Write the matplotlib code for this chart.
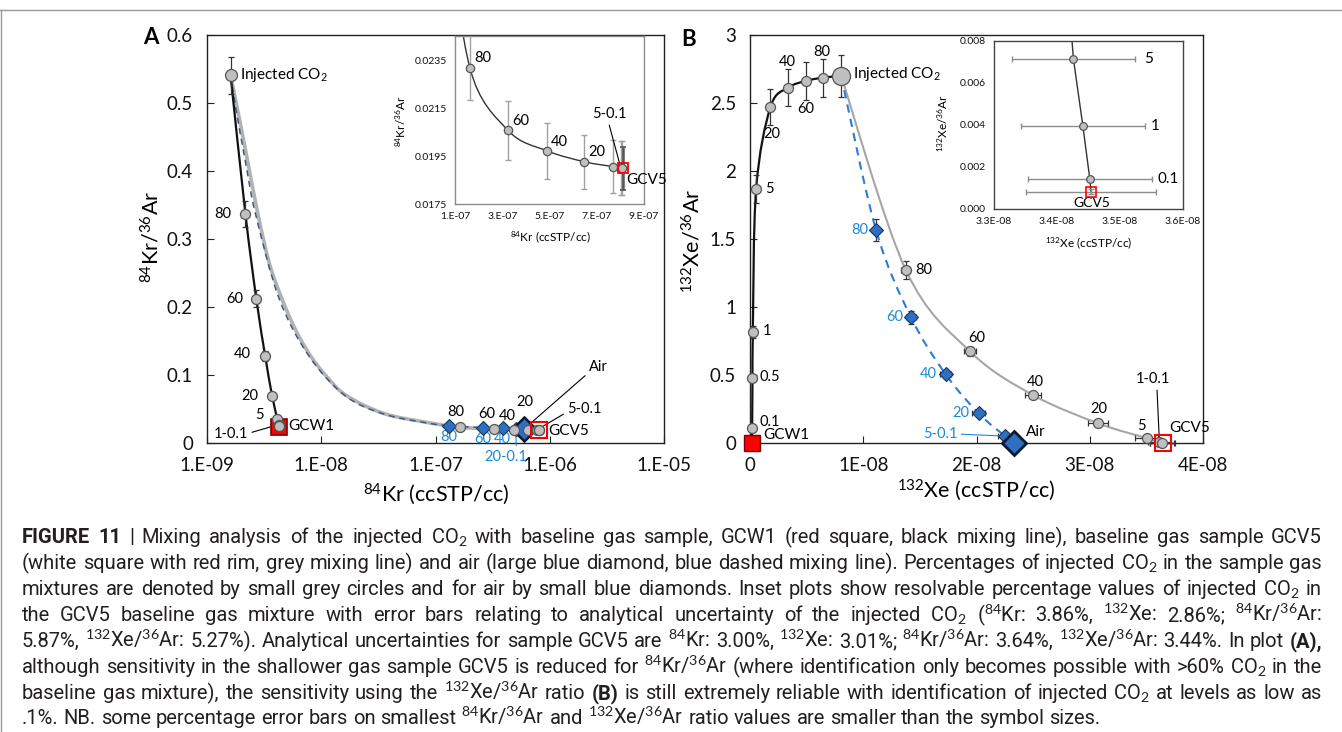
import numpy as np
import matplotlib
matplotlib.use('Agg')
import matplotlib.pyplot as plt
from matplotlib.path import Path
from matplotlib.patches import PathPatch
from matplotlib.transforms import IdentityTransform
from matplotlib.lines import Line2D
from matplotlib.ticker import NullLocator

# ======================= DATA =======================
# ---- Panel A : 84Kr (ccSTP/cc) vs 84Kr/36Ar ----
inj_kr, inj_krar, inj_krar_err = 1.61e-9, 0.5405, 0.027
gcw1_kr, gcw1_krar = 4.29e-9, 0.0236

a_gcw1_labels = ['80', '60', '40', '20', '5', '1', '0.1']
a_gcw1_kr = [2.17e-9, 2.70e-9, 3.23e-9, 3.71e-9, 4.12e-9, 4.24e-9, 4.28e-9]
a_gcw1_krar = [0.3366, 0.2123, 0.1280, 0.0698, 0.0359, 0.0272, 0.0250]
a_gcw1_err = [0.0195, 0.0125, 0.0075, 0.0041, 0.0021, 0.0016, 0.0015]

a_gcv5_labels = ['80', '60', '40', '20', '5', '1', '0.1']
a_gcv5_kr = [1.63e-7, 3.24e-7, 4.88e-7, 6.48e-7, 7.68e-7, 8.02e-7, 8.07e-7]
a_gcv5_krar = [0.02318, 0.02057, 0.01972, 0.01926, 0.01906, 0.01900, 0.01899]
a_gcv5_err = [0.00135, 0.00122, 0.00117, 0.00113, 0.00112, 0.00112, 0.00112]
gcv5_kr, gcv5_krar, gcv5_krar_err = 8.10e-7, 0.01898, 0.00088

# course of the smoothed grey mixing line between injected CO2 and 80 %
a_gcv5_trace_kr = [1.875e-9, 2.286e-9, 2.79e-9, 3.51e-9, 4.52e-9, 5.97e-9,
                   8.04e-9, 1.12e-8, 1.66e-8, 3.56e-8, 9.0e-8]
a_gcv5_trace_krar = [0.4855, 0.4118, 0.3366, 0.2644, 0.2123, 0.1661,
                     0.1283, 0.0973, 0.0698, 0.0432, 0.0295]

a_air_labels = ['80', '60', '40', '20', '5', '1', '0.1']
a_air_kr = [1.30e-7, 2.58e-7, 3.87e-7, 5.03e-7, 5.75e-7, 5.95e-7, 5.99e-7]
a_air_krar = [0.0255, 0.0227, 0.0216, 0.0211, 0.0208, 0.0207, 0.0207]
air_kr, air_krar = 6.0e-7, 0.0210
a_air_trace_kr = [1.815e-9, 2.18e-9, 2.66e-9, 4.28e-9, 7.78e-9, 1.61e-8, 3.44e-8, 8.4e-8]
a_air_trace_krar = [0.4855, 0.4118, 0.3366, 0.2123, 0.1283, 0.0698, 0.0432, 0.0295]

a_xticks = [1e-9, 1e-8, 1e-7, 1e-6, 1e-5]
a_xticklabels = ['1.E-09', '1.E-08', '1.E-07', '1.E-06', '1.E-05']
a_yticks = [0, 0.1, 0.2, 0.3, 0.4, 0.5, 0.6]
a_yticklabels = ['0', '0.1', '0.2', '0.3', '0.4', '0.5', '0.6']

ia_xticks = [1e-7, 3e-7, 5e-7, 7e-7, 9e-7]
ia_xticklabels = ['1.E-07', '3.E-07', '5.E-07', '7.E-07', '9.E-07']
ia_yticks = [0.0175, 0.0195, 0.0215, 0.0235]
ia_yticklabels = ['0.0175', '0.0195', '0.0215', '0.0235']

# ---- Panel B : 132Xe (ccSTP/cc) vs 132Xe/36Ar ----
inj_xe, inj_xear, inj_xear_err = 8.05e-9, 2.699, 0.155
gcw1_xe, gcw1_xear = 1.8e-10, 0.0

b_gcw1_labels = ['80', '60', '40', '20', '5', '1', '0.5', '0.1']
b_gcw1_xe = [6.46e-9, 4.92e-9, 3.38e-9, 1.81e-9, 5.4e-10, 2.5e-10, 2.2e-10, 1.9e-10]
b_gcw1_xear = [2.687, 2.662, 2.613, 2.471, 1.867, 0.815, 0.477, 0.113]
b_gcw1_err = [0.14, 0.14, 0.138, 0.13, 0.10, 0.043, 0.025, 0.006]

b_gcv5_labels = ['80', '60', '40', '20', '5', '1', '0.1']
b_gcv5_xe = [1.376e-8, 1.943e-8, 2.50e-8, 3.076e-8, 3.503e-8, 3.615e-8, 3.638e-8]
b_gcv5_xear = [1.272, 0.673, 0.352, 0.144, 0.036, 0.008, 0.0016]
b_gcv5_xe_err = [3.9e-10, 5.6e-10, 7.2e-10, 8.8e-10, 1.0e-9, 1.04e-9, 1.04e-9]
b_gcv5_xear_err = [0.067, 0.035, 0.018, 0.0076, 0.002, 0.0004, 0.0001]
gcv5_xe, gcv5_xear, gcv5_xe_err = 3.645e-8, 0.0009, 1.1e-9

b_air_labels = ['80', '60', '40', '20', '5', '1', '0.1']
b_air_xe = [1.113e-8, 1.421e-8, 1.729e-8, 2.02e-8, 2.252e-8, 2.314e-8, 2.325e-8]
b_air_xear = [1.566, 0.925, 0.504, 0.217, 0.051, 0.011, 0.002]
b_air_xe_err = [3.2e-10, 4.1e-10, 4.9e-10, 5.8e-10, 6.4e-10, 6.6e-10, 6.6e-10]
b_air_xear_err = [0.083, 0.049, 0.027, 0.011, 0.003, 0.001, 0.0001]
air_xe, air_xear = 2.33e-8, 0.001

b_xticks = [0, 1e-8, 2e-8, 3e-8, 4e-8]
b_xticklabels = ['0', '1E-08', '2E-08', '3E-08', '4E-08']
b_yticks = [0, 0.5, 1, 1.5, 2, 2.5, 3]
b_yticklabels = ['0', '0.5', '1', '1.5', '2', '2.5', '3']

ib_labels = ['5', '1', '0.1']
ib_xe = [3.426e-8, 3.441e-8, 3.452e-8]
ib_xear = [0.00716, 0.00397, 0.00145]
ib_xe_err = [9.8e-10, 9.8e-10, 9.8e-10]
ib_gcv5_xe, ib_gcv5_xear, ib_gcv5_xe_err = 3.454e-8, 0.00082, 1.03e-9
ib_xticks = [3.3e-8, 3.4e-8, 3.5e-8, 3.6e-8]
ib_xticklabels = ['3.3E-08', '3.4E-08', '3.5E-08', '3.6E-08']
ib_yticks = [0, 0.002, 0.004, 0.006, 0.008]
ib_yticklabels = ['0.000', '0.002', '0.004', '0.006', '0.008']

caption_lines = [
    "**FIGURE **11 | Mixing analysis of the injected CO$_2$ with baseline gas sample, GCW1 (red square, black mixing line), baseline gas sample GCV5",
    "(white square with red rim, grey mixing line) and air (large blue diamond, blue dashed mixing line). Percentages of injected CO$_2$ in the sample gas",
    "mixtures are denoted by small grey circles and for air by small blue diamonds. Inset plots show resolvable percentage values of injected CO$_2$ in",
    "the GCV5 baseline gas mixture with error bars relating to analytical uncertainty of the injected CO$_2$ ($^{84}$Kr: 3.86%, $^{132}$Xe: 2.86%; $^{84}$Kr/$^{36}$Ar:",
    "5.87%, $^{132}$Xe/$^{36}$Ar: 5.27%). Analytical uncertainties for sample GCV5 are $^{84}$Kr: 3.00%, $^{132}$Xe: 3.01%; $^{84}$Kr/$^{36}$Ar: 3.64%, $^{132}$Xe/$^{36}$Ar: 3.44%. In plot **(A),",
    "although sensitivity in the shallower gas sample GCV5 is reduced for $^{84}$Kr/$^{36}$Ar (where identification only becomes possible with >60% CO$_2$ in the",
    "baseline gas mixture), the sensitivity using the $^{132}$Xe/$^{36}$Ar ratio **(B) is still extremely reliable with identification of injected CO$_2$ at levels as low as",
    ".1%. NB. some percentage error bars on smallest $^{84}$Kr/$^{36}$Ar and $^{132}$Xe/$^{36}$Ar ratio values are smaller than the symbol sizes.",
]

# ======================= STYLE =======================
plt.rcParams['font.family'] = ['Lato', 'DejaVu Sans']
plt.rcParams['mathtext.fontset'] = 'custom'
plt.rcParams['mathtext.rm'] = 'Lato'
plt.rcParams['mathtext.it'] = 'Lato:italic'
plt.rcParams['mathtext.bf'] = 'Lato:bold'

W, H = 1342, 732
fig = plt.figure(figsize=(W / 100, H / 100), dpi=100)


def box(l, t, r, b):
    return [l / W, 1 - b / H, (r - l) / W, (b - t) / H]


GREY_F, GREY_E = '#BFBFBF', '#555555'
BLUE_F, BLUE_E = '#2E6FC2', '#17375E'
BLUE_T = '#1C8AD8'
RED = '#FF0000'
PT_FS = 10.5


def smooth(ax, x, y, logx=False, **kw):
    x = np.asarray(x, float)
    y = np.asarray(y, float)
    u = np.log10(x) if logx else x
    P = np.column_stack([u, y])
    n = len(P)
    verts, codes = [P[0]], [Path.MOVETO]
    for i in range(n - 1):
        p0 = P[i - 1] if i > 0 else P[i]
        p1, p2 = P[i], P[i + 1]
        p3 = P[i + 2] if i + 2 < n else P[i + 1]
        verts += [p1 + (p2 - p0) / 6, p2 - (p3 - p1) / 6, p2]
        codes += [Path.CURVE4] * 3
    V = np.array(verts)
    if logx:
        V[:, 0] = 10 ** V[:, 0]
    ax.add_patch(PathPatch(Path(V, codes), fill=False, **kw))


def circles(ax, x, y, ms=7.2, z=5, clip=False):
    ax.plot(x, y, 'o', ms=ms, mfc=GREY_F, mec=GREY_E, mew=0.9, zorder=z, clip_on=clip)


def diamonds(ax, x, y, ms=7, z=4, clip=False):
    ax.plot(x, y, 'D', ms=ms, mfc=BLUE_F, mec=BLUE_E, mew=0.8, zorder=z, clip_on=clip)


def lab(ax, text, xy, dx, dy, ha='center', va='center', color='black', fs=PT_FS, **kw):
    ax.annotate(text, xy=xy, xytext=(dx, dy), textcoords='offset pixels',
                ha=ha, va=va, color=color, fontsize=fs, **kw)


def leader(ax, text, xy, dx, dy, relpos, color='black', fs=PT_FS, shrink=4):
    ax.annotate(text, xy=xy, xytext=(dx, dy), textcoords='offset pixels',
                ha='center', va='center', color=color, fontsize=fs,
                arrowprops=dict(arrowstyle='-', color=color, lw=0.8, relpos=relpos,
                                shrinkA=1, shrinkB=shrink))


def style_main(ax):
    for s in ax.spines.values():
        s.set_color('#222222')
        s.set_linewidth(1.0)
    ax.tick_params(direction='in', length=5, width=0.8, labelsize=13.5, pad=10,
                   color='#222222', labelcolor='#111111')
    ax.xaxis.set_minor_locator(NullLocator())
    ax.yaxis.set_minor_locator(NullLocator())


def style_inset(ax, col):
    for s in ax.spines.values():
        s.set_color(col)
        s.set_linewidth(1.0)
    ax.tick_params(length=0, labelsize=7.5, pad=6, labelcolor='#111111')
    ax.set_facecolor('white')


ERR = dict(fmt='none', ecolor='#333333', elinewidth=0.9, capsize=2.5, capthick=0.9)

# ======================= PANEL A =======================
axA = fig.add_axes(box(207, 35, 664, 443))
axA.set_xscale('log')
axA.set_xlim(1e-9, 1e-5)
axA.set_ylim(0, 0.6)
axA.set_xticks(a_xticks)
axA.set_xticklabels(a_xticklabels)
axA.set_yticks(a_yticks)
axA.set_yticklabels(a_yticklabels)
style_main(axA)

smooth(axA, [inj_kr] + a_gcv5_trace_kr + a_gcv5_kr + [gcv5_kr],
       [inj_krar] + a_gcv5_trace_krar + a_gcv5_krar + [gcv5_krar], logx=True,
       ec='#B2B2B2', lw=2.6, zorder=2)
smooth(axA, [inj_kr] + a_air_trace_kr + a_air_kr + [air_kr],
       [inj_krar] + a_air_trace_krar + a_air_krar + [air_krar], logx=True,
       ec='#3A5A8C', lw=1.1, linestyle=(0, (4, 3)), zorder=2.2)
smooth(axA, [inj_kr] + a_gcw1_kr + [gcw1_kr], [inj_krar] + a_gcw1_krar + [gcw1_krar],
       logx=True, ec='#111111', lw=1.6, zorder=2.5)

axA.errorbar([inj_kr] + a_gcw1_kr, [inj_krar] + a_gcw1_krar,
             yerr=[inj_krar_err] + a_gcw1_err, zorder=3, **ERR)
axA.plot([gcw1_kr], [gcw1_krar], 's', ms=11, mfc=RED, mec='#7A0000', mew=1.2, zorder=4)
diamonds(axA, a_air_kr, a_air_krar, ms=7)
axA.plot([air_kr], [air_krar], 'D', ms=12, mfc=BLUE_F, mec='#0A1A30', mew=1.8, zorder=4.5)
circles(axA, a_gcw1_kr, a_gcw1_krar)
circles(axA, a_gcv5_kr, a_gcv5_krar)
circles(axA, [inj_kr], [inj_krar], ms=8.6)
axA.plot([gcv5_kr], [gcv5_krar], 's', ms=11, mfc='none', mec=RED, mew=1.5, zorder=6)

lab(axA, 'Injected CO$_2$', (inj_kr, inj_krar), 9, 0, ha='left', fs=11)
a_gcw1_off = [(-14, 0), (-13, 0), (-14, 2), (-14, 0), (-14, 4)]
for t, x, y, (dx, dy) in zip(a_gcw1_labels[:5], a_gcw1_kr, a_gcw1_krar, a_gcw1_off):
    lab(axA, t, (x, y), dx, dy, ha='right')
leader(axA, '1-0.1', (a_gcw1_kr[5], a_gcw1_krar[5]), -48, -9, (1, 0.5))
lab(axA, 'GCW1', (gcw1_kr, gcw1_krar), 9, 1, ha='left', fs=11)
a_gcv5_off = [(-4, 15), (-7, 15), (-7, 14), (-3, 28)]
for t, x, y, (dx, dy) in zip(a_gcv5_labels[:4], a_gcv5_kr, a_gcv5_krar, a_gcv5_off):
    lab(axA, t, (x, y), dx, dy)
a_air_off = [(0, -11), (0, -11), (0, -11)]
for t, x, y, (dx, dy) in zip(a_air_labels[:3], a_air_kr, a_air_krar, a_air_off):
    lab(axA, t, (x, y), dx, dy, color=BLUE_T)
leader(axA, '20-0.1', (a_air_kr[3], a_air_krar[3]), -10, -28, (0.75, 1), color=BLUE_T)
leader(axA, '5-0.1', (a_gcv5_kr[4], a_gcv5_krar[4]), 48, 21, (0, 0.3))
leader(axA, 'Air', (air_kr, air_krar), 74, 62, (0, 0.1))
lab(axA, 'GCV5', (gcv5_kr, gcv5_krar), 9, -1, ha='left', fs=11)

# inset A
insA = fig.add_axes(box(455, 36, 644, 204))
insA.set_zorder(10)
insA.set_xlim(1e-7, 9e-7)
insA.set_ylim(0.0175, 0.0245)
insA.set_xticks(ia_xticks)
insA.set_xticklabels(ia_xticklabels)
insA.set_yticks(ia_yticks)
insA.set_yticklabels(ia_yticklabels)
style_inset(insA, '#8A8A8A')
smooth(insA, [inj_kr] + a_gcv5_trace_kr + a_gcv5_kr + [gcv5_kr],
       [inj_krar] + a_gcv5_trace_krar + a_gcv5_krar + [gcv5_krar],
       ec='#333333', lw=1.0, zorder=2)
insA.errorbar(a_gcv5_kr, a_gcv5_krar, yerr=a_gcv5_err, fmt='none', ecolor='#A0A0A0',
              elinewidth=1.0, capsize=2, capthick=1.0, zorder=3)
insA.errorbar([gcv5_kr], [gcv5_krar], yerr=[gcv5_krar_err], fmt='none', ecolor='#555555',
              elinewidth=1.8, capsize=2, capthick=1.2, zorder=3)
circles(insA, a_gcv5_kr, a_gcv5_krar, ms=6, clip=True)
insA.plot([gcv5_kr], [gcv5_krar], 's', ms=7, mfc='none', mec=RED, mew=1.3, zorder=6)
ia_off = [(4, 10), (4, 9), (4, 9), (4, 10)]
for t, x, y, (dx, dy) in zip(a_gcv5_labels[:4], a_gcv5_kr, a_gcv5_krar, ia_off):
    lab(insA, t, (x, y), dx, dy, ha='left')
leader(insA, '5-0.1', (a_gcv5_kr[5], a_gcv5_krar[5]), -11, 54, (0.45, 0), shrink=2)
lab(insA, 'GCV5', (gcv5_kr, gcv5_krar), 4, -12, ha='left', fs=11)

fig.text(401 / W, 1 - 121 / H, '$^{84}$Kr/$^{36}$Ar', rotation=90, ha='center', va='center', fontsize=8.5)
fig.text(550 / W, 1 - 237 / H, '$^{84}$Kr (ccSTP/cc)', ha='center', va='center', fontsize=8.5)

fig.text(151 / W, 1 - 237 / H, '$^{84}$Kr/$^{36}$Ar', rotation=90, ha='center', va='center', fontsize=15.5)
fig.text(436 / W, 1 - 494 / H, '$^{84}$Kr (ccSTP/cc)', ha='center', va='center', fontsize=15.5)
fig.text(151 / W, 1 - 38 / H, 'A', ha='center', va='center', fontsize=16, fontweight='bold')

# ======================= PANEL B =======================
axB = fig.add_axes(box(750, 35, 1203, 443))
axB.set_xlim(0, 4e-8)
axB.set_ylim(0, 3)
axB.set_xticks(b_xticks)
axB.set_xticklabels(b_xticklabels)
axB.set_yticks(b_yticks)
axB.set_yticklabels(b_yticklabels)
style_main(axB)

smooth(axB, [inj_xe] + b_gcv5_xe + [gcv5_xe], [inj_xear] + b_gcv5_xear + [gcv5_xear],
       ec='#A6A6A6', lw=1.5, zorder=2)
smooth(axB, [inj_xe] + b_air_xe + [air_xe], [inj_xear] + b_air_xear + [air_xear],
       ec='#2E7BD6', lw=1.5, linestyle=(0, (4, 3)), zorder=2)
smooth(axB, [inj_xe] + b_gcw1_xe + [gcw1_xe], [inj_xear] + b_gcw1_xear + [gcw1_xear],
       ec='#111111', lw=1.6, zorder=2.5)

axB.errorbar([inj_xe] + b_gcw1_xe, [inj_xear] + b_gcw1_xear,
             yerr=[inj_xear_err] + b_gcw1_err, zorder=3, **ERR)
axB.errorbar(b_gcv5_xe + [gcv5_xe], b_gcv5_xear + [gcv5_xear],
             xerr=b_gcv5_xe_err + [gcv5_xe_err], yerr=b_gcv5_xear_err + [0.0],
             zorder=3, clip_on=False, **ERR)
axB.errorbar(b_air_xe, b_air_xear, xerr=b_air_xe_err, yerr=b_air_xear_err,
             zorder=3, clip_on=False, **ERR)
axB.plot([gcw1_xe], [gcw1_xear], 's', ms=11, mfc=RED, mec='#7A0000', mew=1.0, zorder=4, clip_on=False)
diamonds(axB, b_air_xe, b_air_xear, ms=7)
axB.plot([air_xe], [air_xear], 'D', ms=12.5, mfc=BLUE_F, mec='#0A1A30', mew=2.0, zorder=4.5, clip_on=False)
circles(axB, b_gcw1_xe, b_gcw1_xear)
circles(axB, b_gcv5_xe, b_gcv5_xear)
circles(axB, [inj_xe], [inj_xear], ms=13)
axB.plot([gcv5_xe], [gcv5_xear], 's', ms=11, mfc='none', mec=RED, mew=1.5, zorder=6, clip_on=False)

lab(axB, 'Injected CO$_2$', (inj_xe, inj_xear), 12, 2, ha='left', fs=11)
b_gcw1_off = [(-1, 26, 'center'), (0, -28, 'center'), (-1, 26, 'center'), (1, -27, 'center'),
              (9, 0, 'left'), (10, 1, 'left'), (7, 1, 'left'), (7, 6, 'left')]
for t, x, y, (dx, dy, ha) in zip(b_gcw1_labels, b_gcw1_xe, b_gcw1_xear, b_gcw1_off):
    lab(axB, t, (x, y), dx, dy, ha=ha)
lab(axB, 'GCW1', (gcw1_xe, gcw1_xear), 11, 8, ha='left', fs=11)
b_gcv5_off = [(9, 0, 'left'), (7, 13, 'center'), (2, 13, 'center'), (0, 14, 'center'), (-5, 12, 'center')]
for t, x, y, (dx, dy, ha) in zip(b_gcv5_labels[:5], b_gcv5_xe, b_gcv5_xear, b_gcv5_off):
    lab(axB, t, (x, y), dx, dy, ha=ha)
leader(axB, '1-0.1', (b_gcv5_xe[5], b_gcv5_xear[5]), -6, 63, (0.6, 0), shrink=3)
lab(axB, 'GCV5', (gcv5_xe, gcv5_xear), 6, 15, ha='left', fs=11)
b_air_off = [(-8, 0), (-8, 0), (-9, 0), (-9, 0)]
for t, x, y, (dx, dy) in zip(b_air_labels[:4], b_air_xe, b_air_xear, b_air_off):
    lab(axB, t, (x, y), dx, dy, ha='right', color=BLUE_T)
leader(axB, '5-0.1', (b_air_xe[4], b_air_xear[4]), -65, 2, (1, 0.5), color=BLUE_T, shrink=3)
lab(axB, 'Air', (air_xe, air_xear), 12, 11, ha='left', fs=11)

# inset B
insB = fig.add_axes(box(994, 41, 1183, 209))
insB.set_zorder(10)
insB.set_xlim(3.3e-8, 3.6e-8)
insB.set_ylim(0, 0.008)
insB.set_xticks(ib_xticks)
insB.set_xticklabels(ib_xticklabels)
insB.set_yticks(ib_yticks)
insB.set_yticklabels(ib_yticklabels)
style_inset(insB, '#444444')
insB.plot([b_gcv5_xe[3]] + ib_xe + [ib_gcv5_xe], [b_gcv5_xear[3]] + ib_xear + [ib_gcv5_xear],
          '-', color='#333333', lw=1.0, zorder=2)
insB.errorbar(ib_xe + [ib_gcv5_xe], ib_xear + [ib_gcv5_xear], xerr=ib_xe_err + [ib_gcv5_xe_err],
              yerr=[0, 0, 0, 0.00012], fmt='none', ecolor='#8C8C8C', elinewidth=1.0,
              capsize=2, capthick=1.0, zorder=3)
circles(insB, ib_xe, ib_xear, ms=5.5, clip=True)
insB.plot([ib_gcv5_xe], [ib_gcv5_xear], 's', ms=6.5, mfc='none', mec=RED, mew=1.2, zorder=6)
ib_off = [(71, 0), (68, 0), (68, 0)]
for t, x, y, (dx, dy) in zip(ib_labels, ib_xe, ib_xear, ib_off):
    lab(insB, t, (x, y), dx, dy, ha='left', fs=11)
lab(insB, 'GCV5', (ib_gcv5_xe, ib_gcv5_xear), 1, -11, fs=10)

fig.text(943 / W, 1 - 123 / H, '$^{132}$Xe/$^{36}$Ar', rotation=90, ha='center', va='center', fontsize=8.5)
fig.text(1089 / W, 1 - 243 / H, '$^{132}$Xe (ccSTP/cc)', ha='center', va='center', fontsize=8.5)

fig.text(692 / W, 1 - 241 / H, '$^{132}$Xe/$^{36}$Ar', rotation=90, ha='center', va='center', fontsize=15.5)
fig.text(976 / W, 1 - 490 / H, '$^{132}$Xe (ccSTP/cc)', ha='center', va='center', fontsize=15.5)
fig.text(689 / W, 1 - 40 / H, 'B', ha='center', va='center', fontsize=16, fontweight='bold')

# ======================= frame lines =======================
fig.add_artist(Line2D([0, 1], [1 - 10 / H, 1 - 10 / H], transform=fig.transFigure, color='#9A9A9A', lw=1.0))
fig.add_artist(Line2D([0.6 / W, 0.6 / W], [0, 1 - 10 / H], transform=fig.transFigure, color='#9A9A9A', lw=1.0))

# ======================= caption =======================
renderer = fig.canvas.get_renderer()
CAP_FAMILY = ['Roboto', 'DejaVu Sans']


def words_of(line):
    out = []
    for w in line.split(' '):
        if w.startswith('**'):
            out.append((w[2:], True))
        else:
            out.append((w, False))
    return out


def measure(s, fs, bold):
    t = fig.text(0, 0, s, fontsize=fs, family=CAP_FAMILY,
                 fontweight='bold' if bold else 'normal', transform=IdentityTransform())
    w = t.get_window_extent(renderer).width
    t.remove()
    return w


base_fs = 12.0
sp0 = measure('a a', base_fs, False) - measure('aa', base_fs, False)
nat = []
for line in caption_lines[:-1]:
    ws = words_of(line)
    nat.append(sum(measure(s, base_fs, b) for s, b in ws) + sp0 * (len(ws) - 1))
x0, x1 = 22, 1322
fs_main = base_fs * (x1 - x0) * 0.985 / float(np.median(nat))
cap_base = [543, 569, 595, 621, 647, 673, 699, 724]
for k, line in enumerate(caption_lines):
    ws = words_of(line)
    fs = fs_main
    space = sp0 * fs / base_fs
    widths = [measure(s, fs, b) for s, b in ws]
    if k < len(caption_lines) - 1:
        gap = (x1 - x0 - sum(widths)) / (len(ws) - 1)
        if gap < 0.7 * space:
            fs = fs_main * (x1 - x0 - 0.7 * space * (len(ws) - 1)) / sum(widths)
            widths = [measure(s, fs, b) for s, b in ws]
            gap = (x1 - x0 - sum(widths)) / (len(ws) - 1)
    else:
        gap = space
    x = x0
    for (s, b), w in zip(ws, widths):
        fig.text(x, H - cap_base[k], s, fontsize=fs, family=CAP_FAMILY,
                 fontweight='bold' if b else 'normal', color='#231F20',
                 ha='left', va='baseline', transform=IdentityTransform())
        x += w + gap

fig.savefig('out.png', dpi=100)
